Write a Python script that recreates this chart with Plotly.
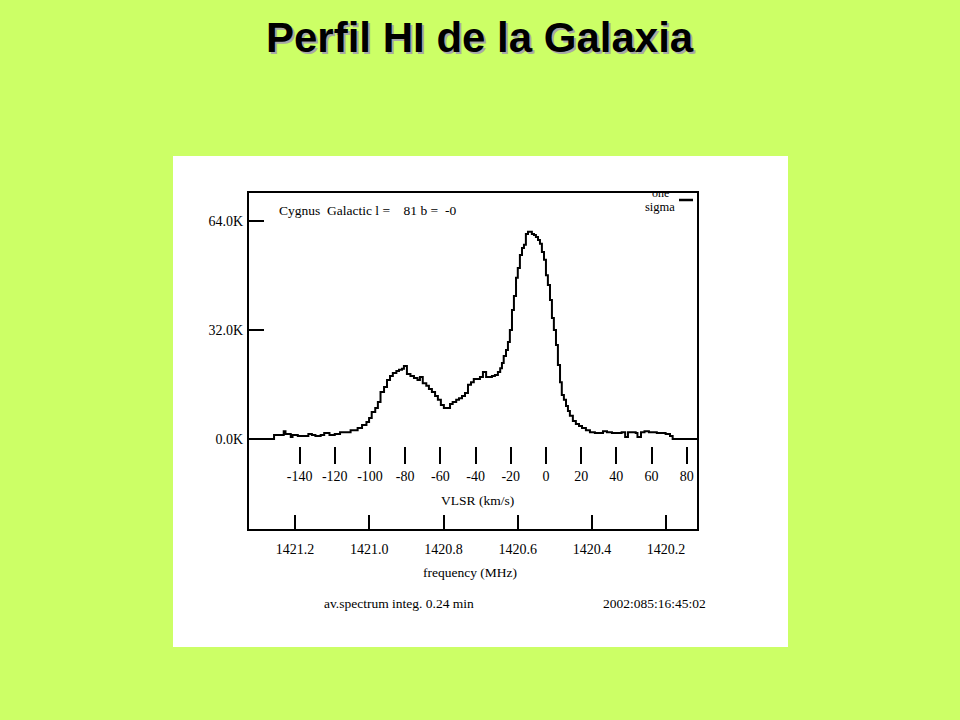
import plotly.graph_objects as go

# ---------------- data ----------------
vlsr = [
    -169.3, -154.5, -149, -148, -145, -144, -141, -139, -135, -133,
    -131, -128, -126, -123, -120, -117, -114, -111, -108.5, -107,
    -104.5, -102, -100.5, -99, -97, -95.5, -94, -92, -90.3, -88.6,
    -87, -85, -83.5, -81.8, -80.7, -79, -77, -75, -73, -71.6,
    -70, -68, -66.5, -64.8, -63, -61.4, -59.7, -58, -56, -54.5,
    -53, -51, -49.4, -47.7, -46, -44.3, -42.6, -41, -39, -37.5,
    -35.8, -34, -32.4, -30.7, -29, -27.3, -26, -25, -24, -22.7,
    -21.6, -20.5, -19.3, -18.2, -17, -16, -14.8, -13.6, -12.5, -11.4,
    -10.2, -9, -8, -6.8, -5.7, -4.5, -3.4, -2.3, -1.1, 0,
    1.1, 2.3, 3.4, 4.5, 5.7, 6.8, 8, 9, 10.2, 11.4,
    12.5, 13.6, 15.3, 17, 18.8, 20.5, 22.7, 25, 27.8, 30.7,
    32.4, 34.7, 37.5, 40.3, 43, 45, 46.6, 49, 51, 52,
    54, 56, 58.5, 61, 63, 65, 68, 70.5, 72, 86.4,
]
temp_k = [
    0, 1.2, 2.3, 1.5, 0.6, 1.2, 0.9, 0.9, 1.5, 1.2,
    0.9, 1.2, 1.8, 1.2, 1.5, 2.0, 2.0, 2.6, 2.6, 3.2,
    4.1, 5.0, 6.2, 7.9, 9.1, 10.9, 13.8, 15.3, 17.3, 18.5,
    19.4, 20.0, 20.3, 20.6, 21.4, 19.1, 18.5, 17.9, 17.3, 18.2,
    16.4, 15.6, 14.7, 13.8, 12.6, 11.5, 10.0, 9.1, 9.1, 10.3,
    10.9, 11.5, 12.0, 12.6, 13.5, 15.9, 16.7, 17.6, 17.6, 18.2,
    19.7, 18.2, 18.2, 18.5, 18.8, 19.7, 20.8, 22.3, 24.4, 26.1,
    28.5, 32.0, 37.9, 42.0, 47.3, 50.2, 54.0, 56.1, 57.0, 60.2,
    60.8, 60.8, 60.2, 59.9, 59.3, 58.4, 57.3, 54.9, 52.6, 48.1,
    45.2, 40.8, 35.5, 32.0, 27.6, 21.7, 16.7, 12.9, 11.5, 9.7,
    8.2, 6.8, 5.3, 4.4, 3.8, 3.2, 2.6, 2.0, 1.8, 1.8,
    2.3, 2.0, 1.8, 1.8, 2.0, 0.6, 2.0, 2.0, 1.8, 0.6,
    2.0, 2.3, 2.0, 2.0, 1.8, 1.8, 1.5, 0.9, 0, 0,
]
vlsr_ticks = [-140, -120, -100, -80, -60, -40, -20, 0, 20, 40, 60, 80]
vlsr_tick_labels = ["-140", "-120", "-100", "-80", "-60", "-40", "-20", "0", "20", "40", "60", "80"]
freq_ticks = [1421.2, 1421.0, 1420.8, 1420.6, 1420.4, 1420.2]
freq_tick_labels = ["1421.2", "1421.0", "1420.8", "1420.6", "1420.4", "1420.2"]
temp_ticks = [0, 32, 64]
temp_tick_labels = ["0.0K", "32.0K", "64.0K"]

title_text = "Perfil HI de la Galaxia"
header_text = "Cygnus  Galactic l =    81 b =  -0"
vlsr_title = "VLSR (km/s)"
freq_title = "frequency (MHz)"
footer_left = "av.spectrum integ. 0.24 min"
footer_right = "2002:085:16:45:02"

# ---------------- layout helpers (pixel -> paper) ----------------
W, H = 960, 720
L, R, T, B = 248, 698, 192, 530
PW, PH = R - L, B - T


def px(x):
    return (x - L) / PW


def py(y):
    return (B - y) / PH


SERIF = "Liberation Serif, Times New Roman, serif"
BG = "#CCFF66"

fig = go.Figure()
fig.add_trace(go.Scatter(
    x=vlsr, y=temp_k, mode="lines", line=dict(shape="hv", color="black", width=2),
    xaxis="x", yaxis="y", hoverinfo="skip", showlegend=False,
))
fig.add_trace(go.Scatter(
    x=freq_ticks, y=[0] * len(freq_ticks), mode="markers", marker=dict(opacity=0),
    xaxis="x2", yaxis="y", hoverinfo="skip", showlegend=False,
))

tickfont = dict(family=SERIF, size=14, color="black")
textfont = dict(family=SERIF, size=13.5, color="black")

fig.update_layout(
    width=W, height=H,
    margin=dict(l=L, r=W - R, t=T, b=H - B, autoexpand=False),
    paper_bgcolor=BG, plot_bgcolor="white",
    showlegend=False,
    xaxis=dict(
        range=[-169.3, 86.4], anchor="free", position=py(446),
        tickmode="array", tickvals=vlsr_ticks, ticktext=vlsr_tick_labels,
        ticks="outside", ticklen=17, tickwidth=1.5, tickcolor="black",
        showline=False, showgrid=False, zeroline=False, tickfont=tickfont,
    ),
    xaxis2=dict(
        range=[1421.327, 1420.114], overlaying="x", anchor="y", side="bottom",
        tickmode="array", tickvals=freq_ticks, ticktext=freq_tick_labels,
        ticks="inside", ticklen=15, tickwidth=1.5, tickcolor="black",
        ticklabelstandoff=9,
        showline=False, showgrid=False, zeroline=False, tickfont=tickfont,
    ),
    yaxis=dict(
        range=[-26.7, 72.5], anchor="free", position=0,
        tickmode="array", tickvals=temp_ticks, ticktext=temp_tick_labels,
        ticks="inside", ticklen=15, tickwidth=1.5, tickcolor="black",
        ticklabelstandoff=5,
        showline=False, showgrid=False, zeroline=False, tickfont=tickfont,
    ),
)

shapes = [
    # white panel
    dict(type="rect", xref="paper", yref="paper", x0=px(173), x1=px(788), y0=py(647), y1=py(156),
         fillcolor="white", line=dict(width=0), layer="below"),
    # plot frame
    dict(type="rect", xref="paper", yref="paper", x0=0, x1=1, y0=0, y1=1,
         line=dict(color="black", width=2)),
    # one-sigma bar
    dict(type="line", xref="paper", yref="paper", x0=px(679), x1=px(693), y0=py(200), y1=py(200),
         line=dict(color="black", width=2.5)),
]
fig.update_layout(shapes=shapes)

annos = [
    dict(text="<b>" + title_text + "</b>", x=px(482), y=py(39),
         font=dict(family="Liberation Sans, Arial", size=42, color="#a8a8a8")),
    dict(text="<b>" + title_text + "</b>", x=px(480), y=py(37),
         font=dict(family="Liberation Sans, Arial", size=42, color="black")),
    dict(text=header_text, x=px(277), y=py(210), xanchor="left", font=textfont),
    dict(text="one", x=px(660), y=py(193), font=dict(family=SERIF, size=12, color="black")),
    dict(text="sigma", x=px(660), y=py(207), font=dict(family=SERIF, size=12.5, color="black")),
    dict(text=vlsr_title, x=px(477), y=py(500), font=textfont),
    dict(text=freq_title, x=px(470), y=py(572), font=textfont),
    dict(text=footer_left, x=px(399), y=py(603), font=textfont),
    dict(text=footer_right, x=px(654), y=py(603), font=textfont),
]
for a in annos:
    a.setdefault("xanchor", "center")
    a.update(xref="paper", yref="paper", yanchor="middle", showarrow=False)
fig.update_layout(annotations=annos)

fig.write_html("out.html", config={"displayModeBar": False},
               post_script="document.body.style.margin='0';")
